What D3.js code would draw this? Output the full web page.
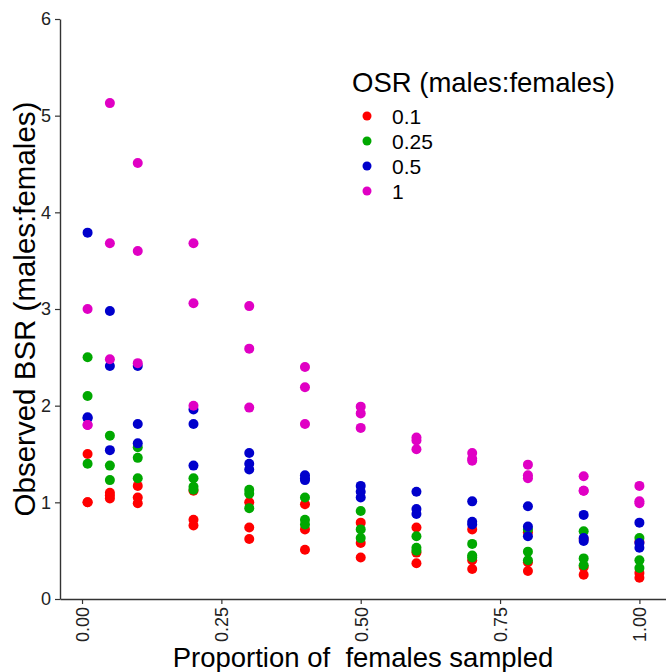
<!DOCTYPE html>
<html>
<head>
<meta charset="utf-8">
<script src="https://cdn.jsdelivr.net/npm/d3@7"></script>
<style>
  html, body { margin: 0; padding: 0; background: #fff; }
  svg { display: block; font-family: "Liberation Sans", Arial, sans-serif; }
</style>
</head>
<body>
<div id="chart"></div>
<script>
(function() {
  'use strict';

  // Proportion of females sampled (x positions)
  const proportions = [0.01, 0.05, 0.1, 0.2, 0.3, 0.4, 0.5, 0.6, 0.7, 0.8, 0.9, 1.0];

  // OSR levels shown in the legend
  const osrLevels = ['0.1', '0.25', '0.5', '1'];

  // Observed BSR, three replicates per proportion, one array per OSR level
  const bsrOsr01 = [
    [1.50, 1.00, 1.00], [1.10, 1.07, 1.04], [1.17, 1.05, 0.99], [1.12, 0.82, 0.76],
    [1.00, 0.74, 0.62], [0.98, 0.72, 0.51], [0.79, 0.58, 0.43], [0.74, 0.48, 0.37],
    [0.72, 0.40, 0.31], [0.69, 0.38, 0.29], [0.62, 0.33, 0.25], [0.59, 0.27, 0.22]
  ];
  const bsrOsr025 = [
    [2.50, 2.10, 1.40], [1.69, 1.38, 1.23], [1.57, 1.46, 1.25], [1.25, 1.16, 1.13],
    [1.13, 1.09, 0.94], [1.05, 0.82, 0.77], [0.91, 0.72, 0.63], [0.65, 0.53, 0.50],
    [0.57, 0.45, 0.43], [0.72, 0.49, 0.40], [0.70, 0.42, 0.35], [0.63, 0.40, 0.32]
  ];
  const bsrOsr05 = [
    [3.79, 1.88, 1.87], [2.98, 2.41, 1.54], [2.41, 1.81, 1.61], [1.96, 1.81, 1.38],
    [1.51, 1.40, 1.34], [1.28, 1.25, 1.23], [1.17, 1.11, 1.05], [1.11, 0.93, 0.88],
    [1.01, 0.80, 0.77], [0.96, 0.75, 0.65], [0.87, 0.63, 0.60], [0.79, 0.58, 0.53]
  ];
  const bsrOsr1 = [
    [3.00, 1.80, 1.80], [5.13, 3.68, 2.48], [4.51, 3.60, 2.44], [3.68, 3.06, 2.00],
    [3.03, 2.59, 1.98], [2.40, 2.19, 1.81], [1.99, 1.92, 1.77], [1.67, 1.64, 1.55],
    [1.51, 1.45, 1.43], [1.39, 1.28, 1.25], [1.27, 1.12, 1.12], [1.17, 1.01, 0.99]
  ];

  const xTicks = [0, 0.25, 0.5, 0.75, 1];
  const yTicks = [0, 1, 2, 3, 4, 5, 6];

  const osrColors = ['#ff0000', '#00a800', '#0000cc', '#e000c4'];

  const width = 666;
  const height = 672;
  const panel = { left: 60, right: 667, top: 19, bottom: 599 };

  // Flatten into one point list, drawn in level order (magenta ends on top)
  const series = [bsrOsr01, bsrOsr025, bsrOsr05, bsrOsr1];
  const points = [];
  series.forEach(function(rows, li) {
    rows.forEach(function(reps, pi) {
      reps.forEach(function(v) {
        points.push({ level: li, x: proportions[pi], y: v });
      });
    });
  });

  // ggplot-style 5% expansion on x
  const xExt = d3.extent(proportions);
  const pad = (xExt[1] - xExt[0]) * 0.05;
  const x = d3.scaleLinear()
    .domain([xExt[0] - pad, xExt[1] + pad])
    .range([panel.left, panel.right]);

  const y = d3.scaleLinear()
    .domain([0, 6])
    .range([panel.bottom, panel.top]);

  const svg = d3.select('#chart')
    .append('svg')
    .attr('width', width)
    .attr('height', height);

  // Y axis
  const yAxis = svg.append('g')
    .attr('transform', 'translate(' + panel.left + ',0)')
    .call(d3.axisLeft(y).tickValues(yTicks).tickFormat(d3.format('d')).tickSize(5).tickSizeOuter(0));
  yAxis.select('.domain').attr('stroke', '#333').attr('stroke-width', 1.4);
  yAxis.selectAll('.tick line').attr('stroke', '#333').attr('stroke-width', 1.2);
  yAxis.selectAll('.tick text')
    .attr('x', -9)
    .attr('fill', '#222')
    .style('font-size', '18px');

  // X axis
  const xAxis = svg.append('g')
    .attr('transform', 'translate(0,' + panel.bottom + ')')
    .call(d3.axisBottom(x).tickValues(xTicks).tickFormat(d3.format('.2f')).tickSize(5).tickSizeOuter(0));
  xAxis.select('.domain').attr('stroke', '#333').attr('stroke-width', 1.4);
  xAxis.selectAll('.tick line').attr('stroke', '#333').attr('stroke-width', 1.2);
  xAxis.selectAll('.tick text')
    .attr('y', 0)
    .attr('dy', '0.35em')
    .attr('transform', 'translate(0,8) rotate(-90)')
    .attr('text-anchor', 'end')
    .attr('fill', '#222')
    .style('font-size', '18px');

  // Points
  svg.append('g')
    .attr('class', 'points')
    .selectAll('circle')
    .data(points)
    .enter()
    .append('circle')
    .attr('cx', function(d) { return x(d.x); })
    .attr('cy', function(d) { return y(d.y); })
    .attr('r', 5)
    .attr('fill', function(d) { return osrColors[d.level]; });

  // Axis titles
  svg.append('text')
    .attr('x', 363)
    .attr('y', 667)
    .attr('text-anchor', 'middle')
    .style('font-size', '27.5px')
    .style('white-space', 'pre')
    .attr('fill', '#000')
    .text('Proportion of  females sampled');

  svg.append('text')
    .attr('transform', 'translate(35,' + ((panel.top + panel.bottom) / 2) + ') rotate(-90)')
    .attr('text-anchor', 'middle')
    .style('font-size', '29.5px')
    .attr('fill', '#000')
    .text('Observed BSR (males:females)');

  // Legend
  const legend = svg.append('g')
    .attr('transform', 'translate(352,0)');

  legend.append('text')
    .attr('x', 0)
    .attr('y', 92)
    .style('font-size', '27.5px')
    .attr('fill', '#000')
    .text('OSR (males:females)');

  const items = legend.selectAll('g.item')
    .data(osrLevels)
    .enter()
    .append('g')
    .attr('class', 'item')
    .attr('transform', function(d, i) { return 'translate(0,' + (116 + i * 25) + ')'; });

  items.append('circle')
    .attr('cx', 15)
    .attr('cy', 0)
    .attr('r', 4.5)
    .attr('fill', function(d, i) { return osrColors[i]; });

  items.append('text')
    .attr('x', 40)
    .attr('y', 0)
    .attr('dy', '0.36em')
    .style('font-size', '21px')
    .attr('fill', '#000')
    .text(function(d) { return d; });
})();
</script>
</body>
</html>
